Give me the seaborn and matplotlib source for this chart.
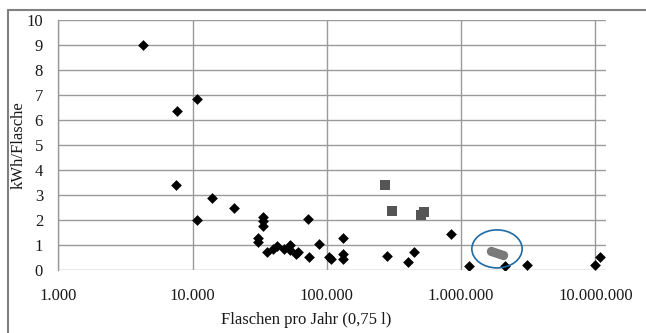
import matplotlib
matplotlib.use("Agg")
import matplotlib.pyplot as plt
import seaborn as sns
import pandas as pd
import numpy as np
from matplotlib.patches import Ellipse
from matplotlib.lines import Line2D
from matplotlib.ticker import FixedLocator, FuncFormatter, NullLocator

# --- data ---
diamond_x = [4250, 7650, 10700, 7480, 10700, 14000, 20500, 33300, 33300, 33300,
             30600, 30600, 35800, 39900, 42300, 47900, 53100, 53100, 58600, 61000,
             72800, 74000, 88000, 104000, 107000, 132000, 132000, 132000, 280000,
             400000, 443000, 835000, 1140000, 2120000, 3070000, 9900000, 10800000]
diamond_y = [9.0, 6.35, 6.83, 3.4, 2.0, 2.88, 2.5, 2.14, 1.98, 1.78,
             1.3, 1.13, 0.74, 0.86, 0.97, 0.86, 1.02, 0.82, 0.66, 0.72,
             2.05, 0.52, 1.05, 0.52, 0.46, 1.27, 0.65, 0.45, 0.56,
             0.34, 0.72, 1.46, 0.15, 0.15, 0.19, 0.21, 0.51]
square_x = [269000, 307000, 502000, 531000]
square_y = [3.42, 2.38, 2.22, 2.31]
circle_x = [1670000, 1760000, 1850000, 1950000, 2050000]
circle_y = [0.76, 0.73, 0.70, 0.66, 0.62]

x_ticks = [1e3, 1e4, 1e5, 1e6, 1e7]
x_tick_labels = ["1.000", "10.000", "100.000", "1.000.000", "10.000.000"]
y_ticks = list(range(0, 11))

x_label = "Flaschen pro Jahr (0,75 l)"
y_label = "kWh/Flasche"

sns.set_theme(style="white")
plt.rcParams["font.family"] = ["Liberation Serif", "DejaVu Serif"]

fig = plt.figure(figsize=(6.46, 3.33), dpi=100)
ax = fig.add_axes([58.3 / 646, 1 - 270 / 333, 547.4 / 646, 250 / 333])

df_d = pd.DataFrame({"x": diamond_x, "y": diamond_y})
df_s = pd.DataFrame({"x": square_x, "y": square_y})
df_c = pd.DataFrame({"x": circle_x, "y": circle_y})

ax.set_xscale("log")
sns.scatterplot(data=df_d, x="x", y="y", marker="D", s=30, color="black",
                edgecolor="black", linewidth=0, ax=ax, zorder=3)
sns.scatterplot(data=df_s, x="x", y="y", marker="s", s=60, color="#555555",
                edgecolor="#555555", linewidth=0, ax=ax, zorder=3)
sns.scatterplot(data=df_c, x="x", y="y", marker="o", s=45, color="#7a7a7a",
                edgecolor="#7a7a7a", linewidth=0, ax=ax, zorder=3)

ax.set_xlim(1e3, 10 ** 7.077)
ax.set_ylim(0, 10)
ax.xaxis.set_major_locator(FixedLocator(x_ticks))
ax.xaxis.set_minor_locator(NullLocator())
ax.xaxis.set_major_formatter(FuncFormatter(
    lambda v, p: x_tick_labels[x_ticks.index(v)] if v in x_ticks else ""))
ax.set_yticks(y_ticks)

ax.grid(True, which="major", color="#9a9a9a", linewidth=1.0)
ax.set_axisbelow(True)
for side in ["top", "right", "bottom"]:
    ax.spines[side].set_visible(False)
ax.spines["left"].set_color("#9a9a9a")
ax.spines["left"].set_linewidth(1.0)

ax.tick_params(axis="both", length=0, labelsize=12, colors="#1a1a1a")
ax.tick_params(axis="y", pad=11)
ax.tick_params(axis="x", pad=13)

ax.set_xlabel(x_label, fontsize=12, color="#1a1a1a")
ax.set_ylabel(y_label, fontsize=12, color="#1a1a1a")
ax.xaxis.set_label_coords(0.453, -0.17)
ax.yaxis.set_label_coords(-0.058, 0.5)

# annotation ellipse around the circle series
cx = 10 ** np.mean(np.log10(circle_x))
cy = np.mean(circle_y) + 0.15
ax_c = ax.transAxes.inverted().transform(ax.transData.transform((cx, cy)))
ell = Ellipse(ax_c, width=50.3 / 547.4, height=38 / 250, transform=ax.transAxes,
              fill=False, edgecolor="#1f6aa5", linewidth=1.2, zorder=4)
ax.add_patch(ell)

# figure border (top and left visible)
fig.add_artist(Line2D([8 / 646, 8 / 646], [-0.1, 1 - 10 / 333], transform=fig.transFigure,
                      color="#808080", linewidth=1.5))
fig.add_artist(Line2D([8 / 646, 1.1], [1 - 10 / 333, 1 - 10 / 333], transform=fig.transFigure,
                      color="#808080", linewidth=1.5))

fig.savefig("out.png", dpi=100)
